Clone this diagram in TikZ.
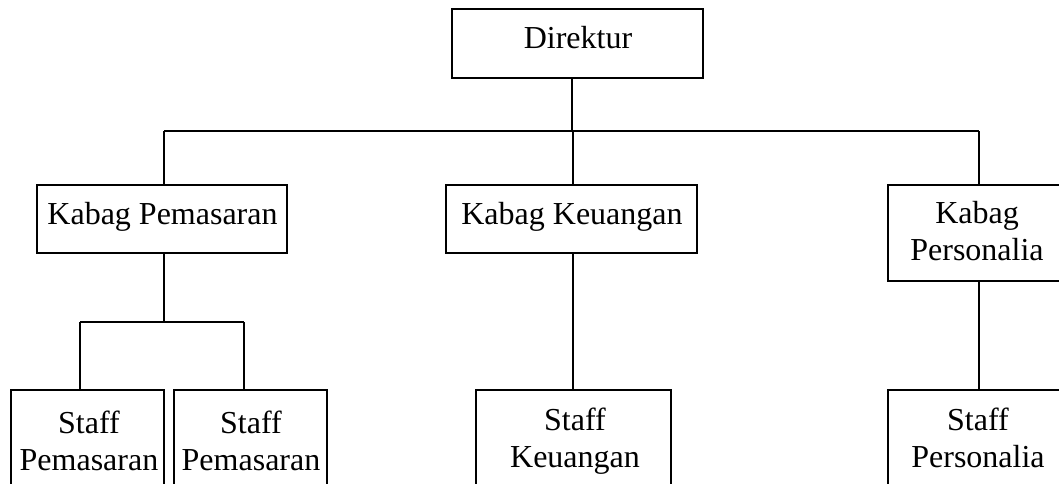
\documentclass[tikz,border=0pt]{standalone}
\usepackage{fontspec}
\setmainfont{Liberation Serif}
\begin{document}
\begin{tikzpicture}[x=1pt,y=1pt,
  box/.style={draw=black, line width=1.1pt, fill=white, inner sep=0pt},
  txt/.style={inner sep=0pt, font=\fontsize{32}{37}\selectfont, align=center},
  conn/.style={draw=black, line width=1.1pt}]
\useasboundingbox (0,0) rectangle (1059,-484);
\clip (0,0) rectangle (1059,-484);
% boxes
\node[box, minimum width=251pt, minimum height=69pt] (dir) at (577.5,-43.5) {};
\node[box, minimum width=250pt, minimum height=68pt] (kp) at (162,-219) {};
\node[box, minimum width=251pt, minimum height=68pt] (kk) at (571.5,-219) {};
\node[box, minimum width=180pt, minimum height=96pt] (kpers) at (978,-233) {};
\node[box, minimum width=153pt, minimum height=120pt] (sp1) at (87.5,-450) {};
\node[box, minimum width=153pt, minimum height=120pt] (sp2) at (250.5,-450) {};
\node[box, minimum width=195pt, minimum height=120pt] (sk) at (573.5,-450) {};
\node[box, minimum width=180pt, minimum height=120pt] (spers) at (978,-450) {};
% texts
\node[txt, anchor=base] (dirT) at (578,-49) {Direktur};
\node[txt, anchor=base] (kpT) at (162.5,-224) {Kabag Pemasaran};
\node[txt, anchor=base] (kkT) at (572,-224) {Kabag Keuangan};
\node[txt] (kpersT) at (977,-231.5) {Kabag\\Personalia};
\node[txt] (sp1T) at (89,-441) {Staff\\Pemasaran};
\node[txt] (sp2T) at (251,-441) {Staff\\Pemasaran};
\node[txt] (skT) at (575,-441) {Staff\\Keuangan};
\node[txt] (spersT) at (978,-437.5) {Staff\\Personalia};
% connectors
\coordinate (bar) at (0,-131);
\coordinate (bar2) at (0,-322);
\draw[conn] ([xshift=-5.5pt]dir.south) -- ([xshift=-5.5pt]dir.south |- bar);
\draw[conn] ([xshift=2pt]kp.north |- bar) -- ([xshift=1pt]kpers.north |- bar);
\draw[conn] ([xshift=2pt]kp.north |- bar) -- ([xshift=2pt]kp.north);
\draw[conn] ([xshift=1.5pt]kk.north |- bar) -- ([xshift=1.5pt]kk.north);
\draw[conn] ([xshift=1pt]kpers.north |- bar) -- ([xshift=1pt]kpers.north);
\draw[conn] ([xshift=2pt]kp.south) -- ([xshift=2pt]kp.south |- bar2);
\draw[conn] ([xshift=-7.5pt]sp1.north |- bar2) -- ([xshift=-6.5pt]sp2.north |- bar2);
\draw[conn] ([xshift=-7.5pt]sp1.north |- bar2) -- ([xshift=-7.5pt]sp1.north);
\draw[conn] ([xshift=-6.5pt]sp2.north |- bar2) -- ([xshift=-6.5pt]sp2.north);
\draw[conn] ([xshift=1.5pt]kk.south) -- ([xshift=1.5pt]kk.south |- sk.north);
\draw[conn] ([xshift=1pt]kpers.south) -- ([xshift=1pt]spers.north);
\end{tikzpicture}
\end{document}
